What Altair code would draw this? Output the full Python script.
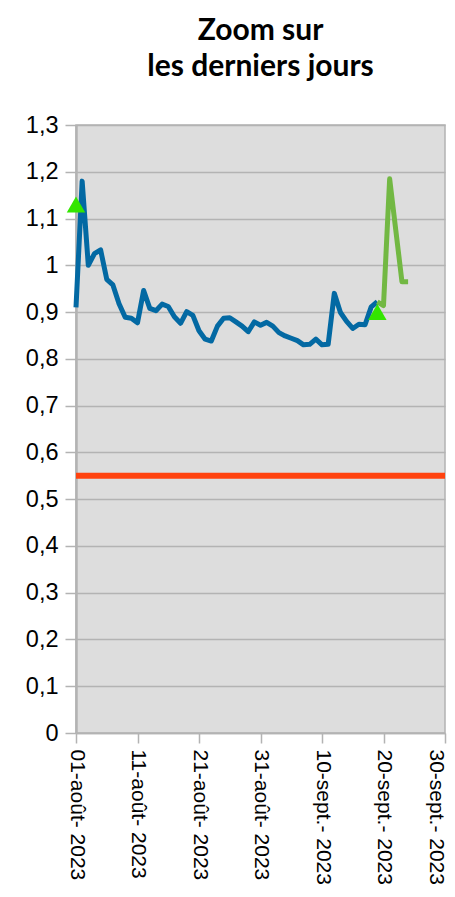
import altair as alt
import pandas as pd

# ---- data ----
start_date = "2023-08-01"
blue_dates = pd.date_range("2023-08-01", periods=50, freq="D").strftime("%Y-%m-%d").tolist()
blue_values = [0.91, 1.18, 1.00, 1.025, 1.033, 0.97, 0.958, 0.918, 0.889, 0.887,
               0.877, 0.946, 0.908, 0.903, 0.917, 0.912, 0.89, 0.876, 0.901, 0.893,
               0.86, 0.842, 0.838, 0.87, 0.887, 0.888, 0.879, 0.870, 0.858, 0.879,
               0.872, 0.878, 0.870, 0.856, 0.849, 0.844, 0.839, 0.830, 0.831, 0.842,
               0.830, 0.831, 0.940, 0.899, 0.880, 0.865, 0.874, 0.873, 0.911, 0.922]
green_dates = ["2023-09-19", "2023-09-20", "2023-09-21", "2023-09-22", "2023-09-23", "2023-09-24"]
green_values = [0.922, 0.914, 1.185, 1.075, 0.965, 0.965]
marker_dates = ["2023-08-01", "2023-09-19"]
marker_values = [1.13, 0.90]
threshold = 0.55

tick_days = [0, 10, 20, 30, 40, 50, 60]
tick_labels = ["01-août- 2023", "11-août- 2023", "21-août- 2023", "31-août- 2023",
               "10-sept.- 2023", "20-sept.- 2023", "30-sept.- 2023"]
y_ticks = [0, 0.1, 0.2, 0.3, 0.4, 0.5, 0.6, 0.7, 0.8, 0.9, 1.0, 1.1, 1.2, 1.3]

t0 = pd.Timestamp(start_date)


def days(ds):
    return [(pd.Timestamp(d) - t0).days for d in ds]


blue_df = pd.DataFrame({"day": days(blue_dates), "value": blue_values})
green_df = pd.DataFrame({"day": days(green_dates), "value": green_values})
marker_df = pd.DataFrame({"day": days(marker_dates), "value": marker_values})

label_array = "[" + ",".join("'" + s + "'" for s in tick_labels) + "]"

x_scale = alt.Scale(domain=[0, 60], nice=False, zero=False)
y_scale = alt.Scale(domain=[0, 1.3], nice=False)

x_axis = alt.Axis(values=tick_days, labelExpr=label_array + "[round(datum.value/10)]",
                  labelAngle=90, labelFontSize=21, labelFont="Liberation Sans",
                  labelColor="black", tickSize=10, tickColor="#b3b3b3", tickWidth=1.5,
                  labelPadding=6, domainColor="#b3b3b3", domainWidth=1.5,
                  labelOffset=alt.condition("datum.value >= 60", alt.value(-10), alt.value(0)),
                  grid=False, title=None, labelOverlap=False, labelFlush=False)
y_axis = alt.Axis(values=y_ticks, labelExpr="replace(format(datum.value, '~g'), '.', ',')",
                  labelFontSize=23.5, labelFont="Liberation Sans", labelColor="black",
                  tickSize=11, tickColor="#b3b3b3", tickWidth=1.5, labelPadding=7,
                  domainColor="#b3b3b3", domainWidth=2.5, gridColor="#b3b3b3",
                  gridWidth=1.5, title=None, labelOverlap=False)

base_x = alt.X("day:Q", scale=x_scale, axis=x_axis)
base_y = alt.Y("value:Q", scale=y_scale, axis=y_axis)

blue = alt.Chart(blue_df).mark_line(color="#0369a3", strokeWidth=5, strokeJoin="round").encode(
    x=base_x, y=base_y)
green = alt.Chart(green_df).mark_line(color="#72b843", strokeWidth=5, strokeJoin="round").encode(
    x="day:Q", y="value:Q")
rule = alt.Chart(pd.DataFrame({"value": [threshold]})).mark_rule(
    color="#ff420e", strokeWidth=6).encode(y="value:Q")
markers = alt.Chart(marker_df).mark_point(shape="triangle-up", filled=True, size=340,
                                          color="#33e600", opacity=1).encode(
    x="day:Q", y="value:Q")

chart = alt.layer(rule, blue, green, markers).properties(
    width=369, height=608,
    title=alt.Title(["Zoom sur", "les derniers jours"], font="Lato", fontSize=30,
                    fontWeight="bold", color="black", anchor="middle", offset=31,
                    lineHeight=36),
    autosize=alt.AutoSizeParams(type="none"),
    padding={"left": 68, "top": 117, "right": 2, "bottom": 155},
).configure_view(fill="#dddddd", stroke="#b3b3b3", strokeWidth=1.5)

chart.save("out.html", embed_options={"renderer": "svg", "actions": False})
